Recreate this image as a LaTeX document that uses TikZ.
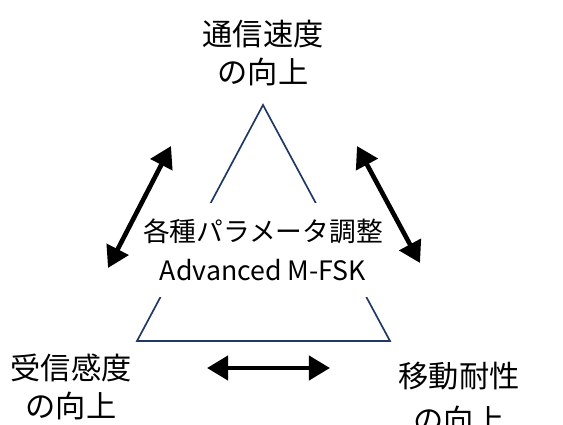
\documentclass[tikz,border=0pt]{standalone}
\usepackage{fontspec}
\setmainfont{Noto Sans CJK JP}
\usetikzlibrary{arrows.meta}
\definecolor{edgeblue}{HTML}{203864}

\begin{document}
\begin{tikzpicture}[x=0.025cm, y=-0.025cm,
    goal/.style={align=center, font=\fontsize{21.5}{27}\selectfont, inner sep=0pt},
    core/.style={align=center, font=\fontsize{19}{27.6}\selectfont, fill=white,
        inner xsep=2pt, minimum height=67pt},
    tradeoff/.style={{Triangle[length=15pt,width=17pt]}-{Triangle[length=15pt,width=17pt]},
        line width=3.3pt},
    edge/.style={draw=edgeblue, line width=1.2pt}]
    \useasboundingbox (0,0) rectangle (563,425);
    \coordinate (apex) at (263,105);
    \coordinate (bl) at (137,341);
    \coordinate (br) at (390,341);
    \draw[edge] (apex) -- (br) -- (bl) -- cycle;
    \node[core] (param) at (263,250) {各種パラメータ調整\\Advanced M-FSK};
    \node[goal] (speed) at (263,53) {通信速度\\の向上};
    \node[goal] (sens) at (71,387) {受信感度\\の向上};
    \node[goal, font=\fontsize{21.5}{31}\selectfont] (mob) at (459,398) {移動耐性\\の向上};
    \coordinate (l1) at (108,268);
    \coordinate (l2) at (171,146);
    \coordinate (r1) at (357,146);
    \coordinate (r2) at (420,263);
    \coordinate (b1) at (207,368);
    \coordinate (b2) at (330,368);
    \draw[tradeoff] (l1) -- (l2);
    \draw[tradeoff] (r1) -- (r2);
    \draw[tradeoff] (b1) -- (b2);
\end{tikzpicture}
\end{document}
